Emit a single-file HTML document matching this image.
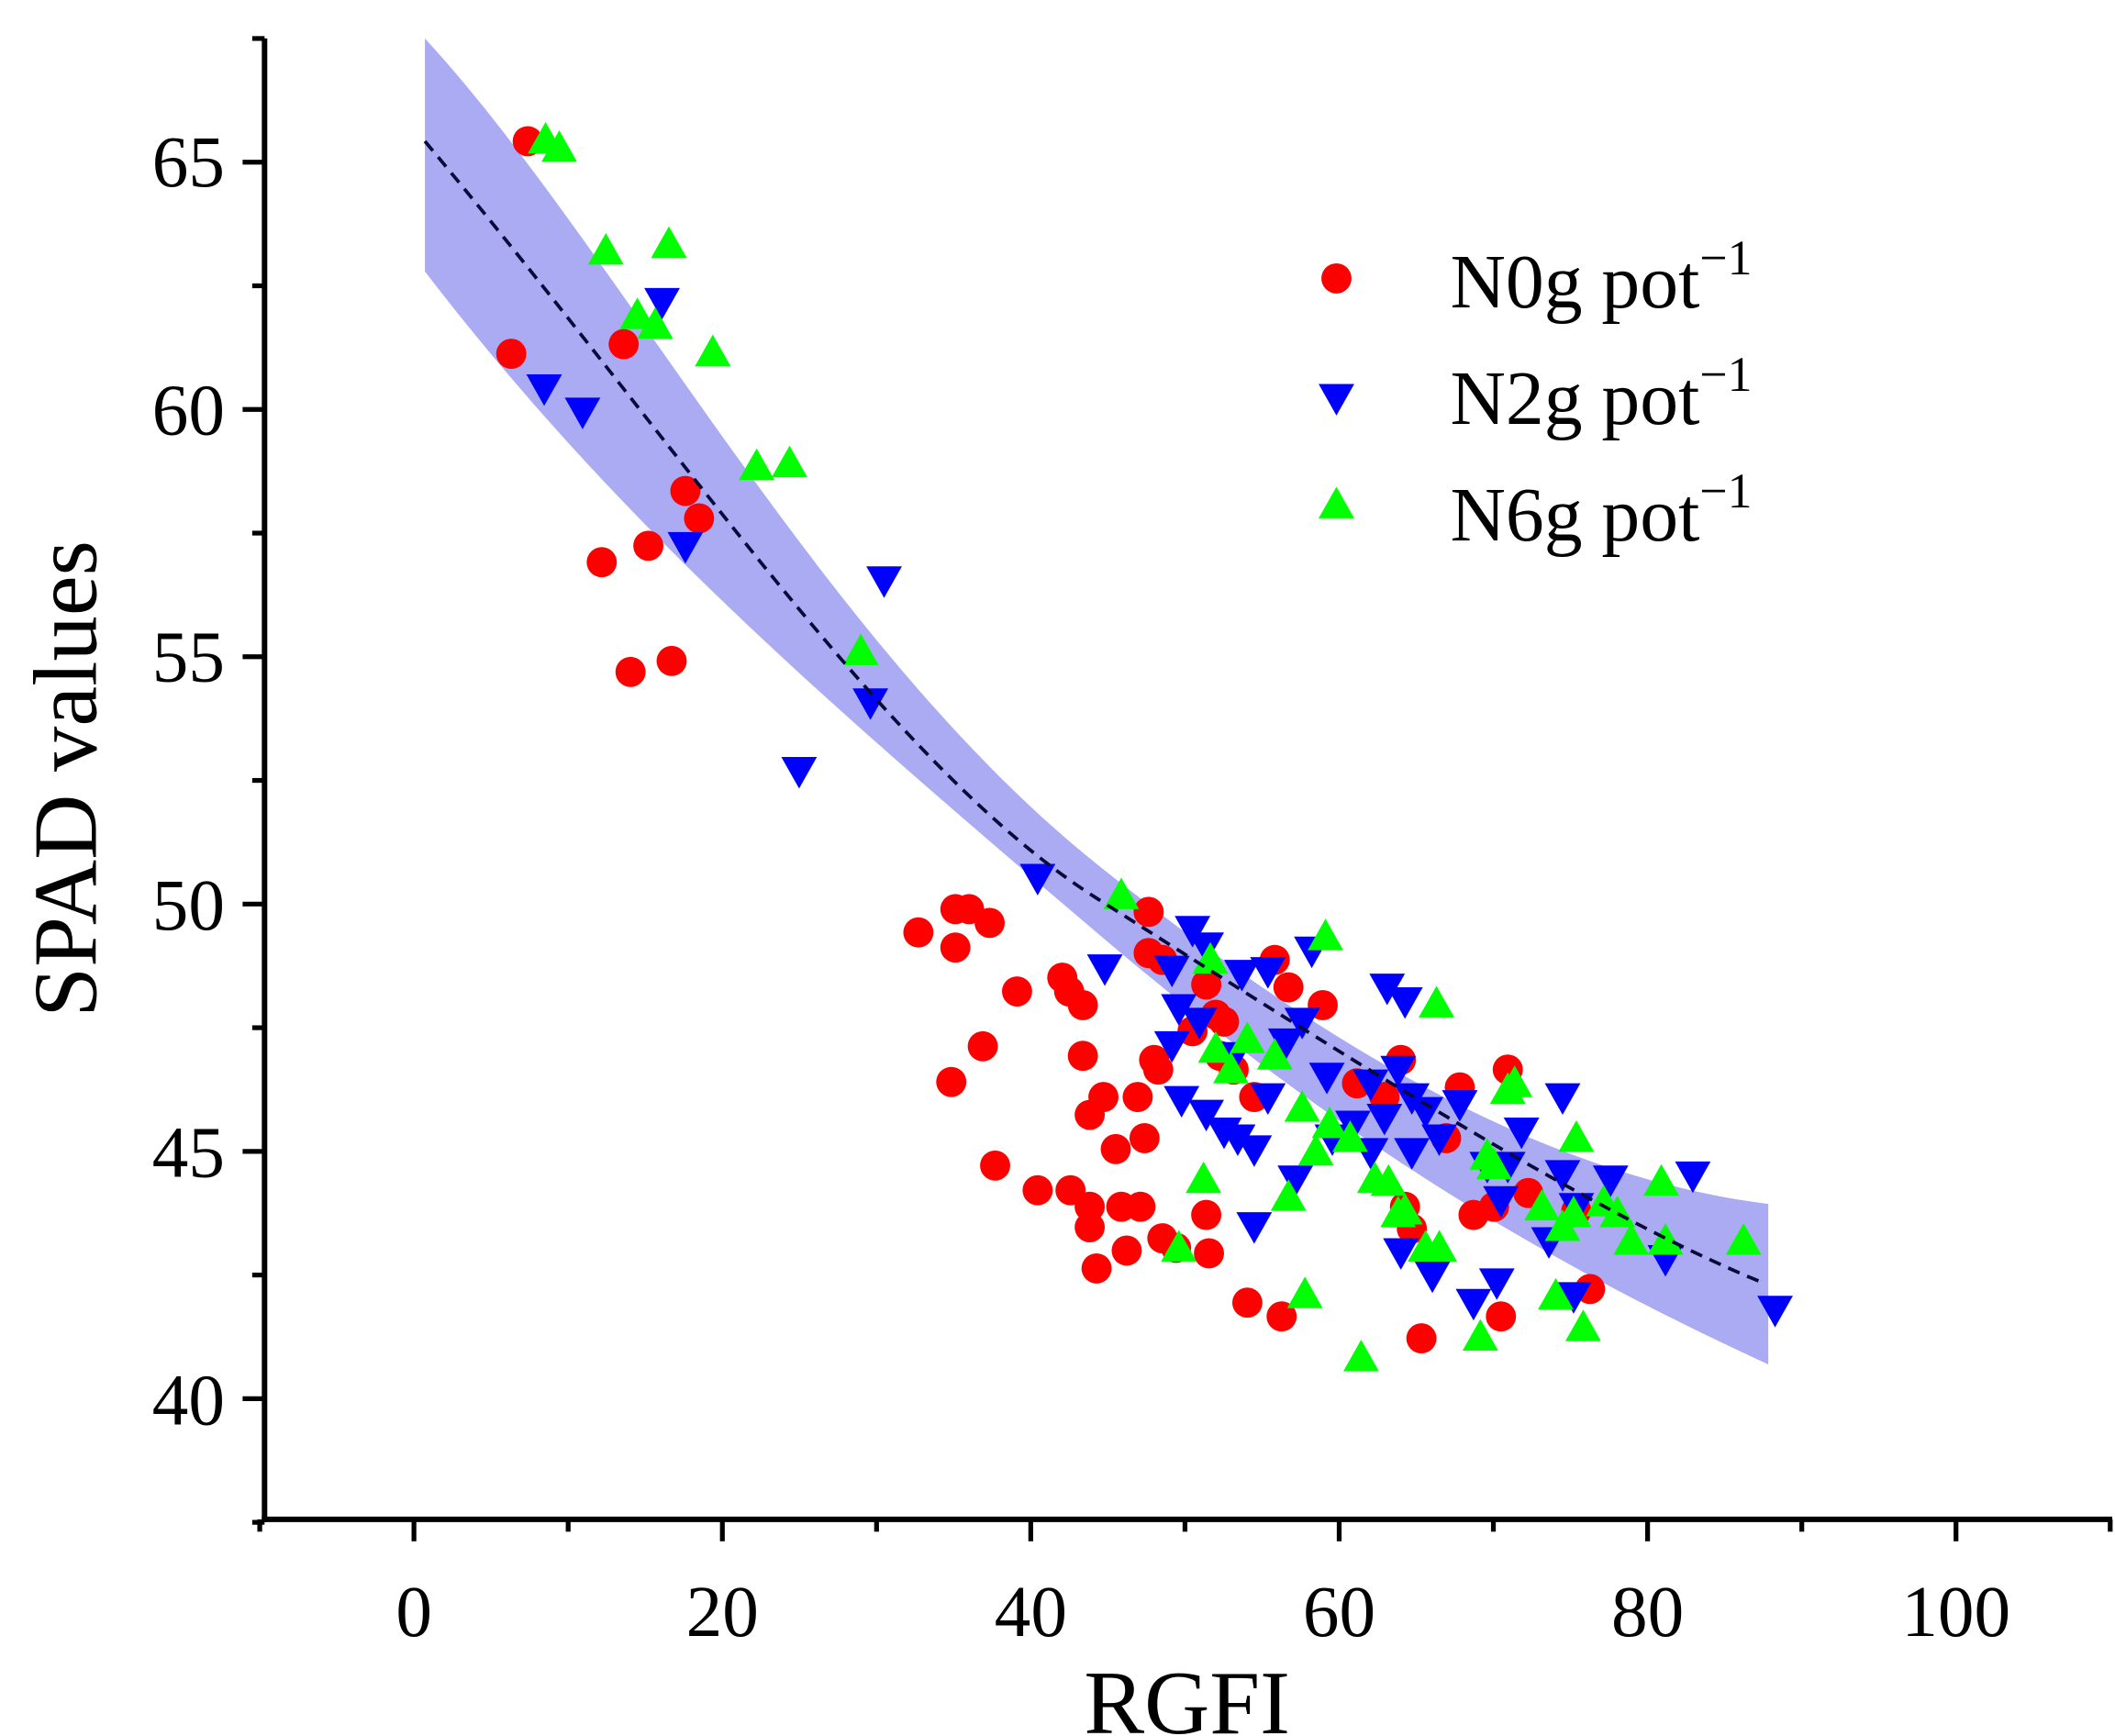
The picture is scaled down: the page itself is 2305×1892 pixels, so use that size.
<!DOCTYPE html>
<html><head><meta charset="utf-8"><style>
html,body{margin:0;padding:0;background:#fff;}
svg{display:block;}
text{font-family:"Liberation Serif",serif;fill:#000;}
</style></head><body>
<svg id="s" width="2305" height="1892" viewBox="0 0 1543 1266" preserveAspectRatio="none" xmlns="http://www.w3.org/2000/svg">
<path d="M310,28 C 450,180 600,470 800,630 S 1150,860 1290,878 L1290,995 C 1150,930 1000,850 800,680 S 450,380 310,198 Z" fill="#8f8ff0" opacity="0.75"/>
<g id="pts"></g>
<path d="M310,103 C 500,330 650,560 800,655 S 1150,880 1285,935" fill="none" stroke="#0a0a3a" stroke-width="2.5" stroke-dasharray="9,6"/>
<g stroke="#000" stroke-width="4" fill="none">
<line x1="193" y1="28" x2="193" y2="1110"/>
<line x1="191" y1="1108" x2="1541" y2="1108"/>
</g>
<g id="ticks" stroke="#000" stroke-width="3.5"></g>
<g font-size="53" text-anchor="middle">
<text x="302" y="1193">0</text><text x="527" y="1193">20</text><text x="752" y="1193">40</text><text x="977" y="1193">60</text><text x="1202" y="1193">80</text><text x="1427" y="1193">100</text>
</g>
<g font-size="53" text-anchor="end">
<text x="164" y="136">65</text><text x="164" y="317">60</text><text x="164" y="497">55</text><text x="164" y="678">50</text><text x="164" y="858">45</text><text x="164" y="1039">40</text>
</g>
<text x="866" y="1264" font-size="66" text-anchor="middle">RGFI</text>
<text transform="translate(70,568) rotate(-90)" font-size="66" text-anchor="middle">SPAD values</text>
<circle cx="975" cy="203" r="11" fill="#f00"/>
<polygon points="962,280 988,280 975,303" fill="#00f"/>
<polygon points="962,378 988,378 975,355" fill="#0f0"/>
<g font-size="56">
<text x="1058" y="224">N0g pot<tspan dy="-24" font-size="36">−1</tspan></text>
<text x="1058" y="309">N2g pot<tspan dy="-24" font-size="36">−1</tspan></text>
<text x="1058" y="394">N6g pot<tspan dy="-24" font-size="36">−1</tspan></text>
</g>
</svg>
<script>
var NS="http://www.w3.org/2000/svg",g=document.getElementById("pts"),t=document.getElementById("ticks");
function el(n,a,p){var e=document.createElementNS(NS,n);for(var k in a)e.setAttribute(k,a[k]);p.appendChild(e);}
var R=[[373,258],[385,103],[455,251],[439,410],[473,398],[460,490],[490,482],[500,358],[510,378],[670,680],[697,663],[697,691],[707,663],[722,673],[694,789],[717,763],[726,850],[742,723],[757,868],[775,713],[780,723],[790,733],[781,868],[795,880],[795,895],[800,925],[790,770],[795,813],[805,800],[814,838],[818,880],[822,912],[830,800],[832,880],[835,830],[842,773],[838,695],[848,700],[838,665],[848,903],[880,718],[880,886],[882,914],[887,740],[893,745],[910,950],[915,800],[930,700],[935,960],[940,720],[965,733],[1022,773],[1025,880],[1030,896],[1037,976],[1055,830],[1065,793],[1075,886],[1095,960],[1100,780],[1090,880],[1115,870],[1150,883],[1160,940],[990,790],[1010,800],[890,770],[900,780],[845,780],[870,752],[858,910]];
var B=[[397,283],[425,300],[483,220],[500,398],[645,423],[635,512],[583,562],[757,640],[806,706],[855,707],[870,678],[880,690],[860,735],[875,745],[855,762],[862,802],[880,812],[893,825],[903,830],[915,838],[915,894],[906,710],[925,708],[938,760],[950,745],[957,693],[968,785],[972,830],[987,820],[1000,790],[1010,815],[1012,720],[1025,730],[1020,780],[1030,800],[1040,810],[1022,913],[1050,830],[1065,805],[1075,950],[1092,935],[1095,875],[1100,850],[1110,825],[1130,905],[1140,856],[1140,800],[1148,945],[1150,880],[1175,860],[1215,918],[1235,857],[1295,955],[1000,840],[1030,840],[925,800],[900,770],[1085,850],[1045,930],[945,860]];
var G=[[398,102],[408,108],[442,183],[465,230],[478,237],[488,178],[520,257],[552,340],[576,338],[628,475],[818,653],[883,700],[878,860],[860,910],[887,765],[898,780],[910,758],[940,873],[950,808],[952,944],[967,683],[993,990],[1003,860],[1013,862],[1025,883],[1040,910],[1020,885],[1048,732],[1050,910],[1080,975],[1085,843],[1090,850],[1100,795],[1105,790],[1125,880],[1135,945],[1140,895],[1148,885],[1155,968],[1150,830],[1170,877],[1180,885],[1190,905],[1212,862],[1215,905],[1272,905],[970,820],[960,840],[930,770],[985,830]];
R.forEach(function(p){el("circle",{cx:p[0],cy:p[1],r:11,fill:"#f00"},g);});
B.forEach(function(p){var x=p[0],y=p[1];el("polygon",{points:(x-13)+","+(y-10)+" "+(x+13)+","+(y-10)+" "+x+","+(y+13),fill:"#00f"},g);});
G.forEach(function(p){var x=p[0],y=p[1];el("polygon",{points:(x-13)+","+(y+10)+" "+(x+13)+","+(y+10)+" "+x+","+(y-13),fill:"#0f0"},g);});
for(var v=-10;v<=110;v+=10){var x=302+11.25*v,maj=(v%20==0);el("line",{x1:x,y1:1108,x2:x,y2:1108+(maj?16:9)},t);}
for(var v=37.5;v<=67.6;v+=2.5){var y=1020-36.07*(v-40),maj=(v%5==0);el("line",{x1:193,y1:y,x2:193-(maj?16:9),y2:y},t);}
</script>
</body></html>
